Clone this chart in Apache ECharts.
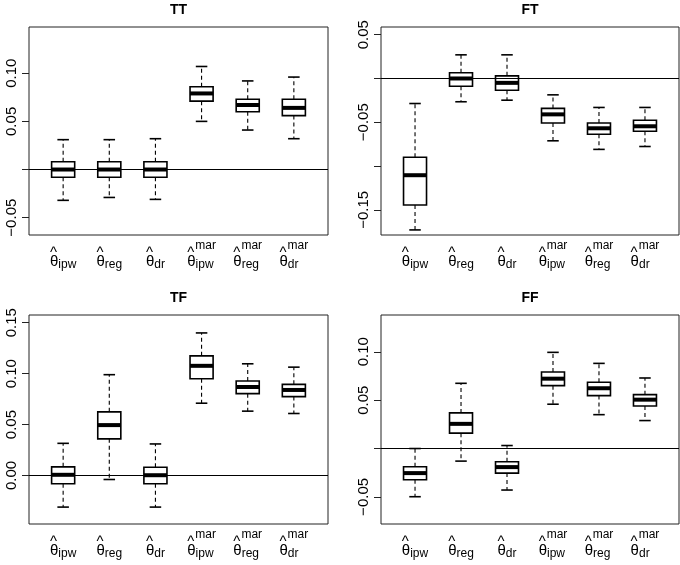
<!DOCTYPE html>
<html>
<head>
<meta charset="utf-8">
<script src="https://cdn.jsdelivr.net/npm/echarts@6/dist/echarts.min.js"></script>
<style>
  html, body { margin: 0; padding: 0; background: #fff; }
  #main { width: 680px; height: 565px; }
</style>
</head>
<body>
<div id="main"></div>
<script>
// estimator labels (x axis)
var estSubs = ['ipw', 'reg', 'dr', 'ipw', 'reg', 'dr'];
var estSups = ['', '', '', 'mar', 'mar', 'mar'];

// box stats per panel: [lower whisker, Q1, median, Q3, upper whisker]
var ttStats = [
    [-0.032, -0.008, 0.000, 0.008, 0.031],
    [-0.029, -0.008, 0.000, 0.008, 0.031],
    [-0.031, -0.008, 0.000, 0.008, 0.032],
    [0.050, 0.071, 0.079, 0.086, 0.107],
    [0.041, 0.060, 0.067, 0.073, 0.092],
    [0.032, 0.056, 0.064, 0.073, 0.096]
];
var ftStats = [
    [-0.173, -0.1446, -0.1105, -0.090, -0.0286],
    [-0.0266, -0.0088, 0.000, 0.0066, 0.027],
    [-0.0248, -0.0134, -0.005, 0.003, 0.027],
    [-0.0712, -0.0508, -0.041, -0.0342, -0.0187],
    [-0.081, -0.0637, -0.0569, -0.0508, -0.0331],
    [-0.0777, -0.0603, -0.0546, -0.0478, -0.0331]
];
var tfStats = [
    [-0.031, -0.0081, 0.0007, 0.0085, 0.0316],
    [-0.0039, 0.036, 0.0495, 0.0625, 0.099],
    [-0.031, -0.0081, 0.0003, 0.0081, 0.031],
    [0.071, 0.095, 0.1077, 0.1175, 0.140],
    [0.0632, 0.0804, 0.0869, 0.0928, 0.1097],
    [0.0609, 0.0775, 0.084, 0.0895, 0.1064]
];
var ffStats = [
    [-0.0498, -0.0323, -0.0254, -0.0189, 0.000],
    [-0.013, 0.0159, 0.0255, 0.0368, 0.0674],
    [-0.0429, -0.0254, -0.0192, -0.0137, 0.0031],
    [0.0458, 0.065, 0.0722, 0.0791, 0.0994],
    [0.035, 0.0547, 0.0623, 0.0685, 0.088],
    [0.0289, 0.044, 0.0505, 0.0557, 0.0729]
];

// y axis ranges, ticks and labelled ticks
var ttRange = [-0.068, 0.148];
var ftRange = [-0.1788, 0.0588];
var tfRange = [-0.0476, 0.1576];
var ffRange = [-0.078, 0.138];
var ttTicks = [-0.05, 0, 0.05, 0.10];
var ftTicks = [-0.15, -0.10, -0.05, 0, 0.05];
var tfTicks = [0, 0.05, 0.10, 0.15];
var ffTicks = [-0.05, 0, 0.05, 0.10];
var ttTickLabels = [-0.05, 0.05, 0.10];
var ftTickLabels = [-0.15, -0.05, 0.05];
var tfTickLabels = [0, 0.05, 0.10, 0.15];
var ffTickLabels = [-0.05, 0.05, 0.10];

var panelTitles = ['TT', 'FT', 'TF', 'FF'];
var refLine = 0;

var FONT = '"Liberation Sans", Arial, sans-serif';

var chart = echarts.init(document.getElementById('main'), null, { renderer: 'canvas' });

var panels = [
    { stats: ttStats, range: ttRange, ticks: ttTicks, labels: ttTickLabels, grid: { left: 29, top: 27, width: 299, height: 208 } },
    { stats: ftStats, range: ftRange, ticks: ftTicks, labels: ftTickLabels, grid: { left: 381, top: 27, width: 298, height: 208 } },
    { stats: tfStats, range: tfRange, ticks: tfTicks, labels: tfTickLabels, grid: { left: 29, top: 315, width: 299, height: 209 } },
    { stats: ffStats, range: ffRange, ticks: ffTicks, labels: ffTickLabels, grid: { left: 381, top: 315, width: 298, height: 209 } }
];

function renderBox(params, api) {
    var x = api.value(0);
    var lo = api.coord([x, api.value(1)]);
    var q1 = api.coord([x, api.value(2)]);
    var md = api.coord([x, api.value(3)]);
    var q3 = api.coord([x, api.value(4)]);
    var hi = api.coord([x, api.value(5)]);
    var cx = md[0];
    var half = api.size([0.25, 0])[0];
    var cap = half / 2;
    var whisker = { stroke: '#000', lineWidth: 1.1, lineDash: [4, 3] };
    var solid = { stroke: '#000', lineWidth: 1.6 };
    return {
        type: 'group',
        children: [
            { type: 'line', shape: { x1: cx, y1: q3[1], x2: cx, y2: hi[1] }, style: whisker },
            { type: 'line', shape: { x1: cx, y1: q1[1], x2: cx, y2: lo[1] }, style: whisker },
            { type: 'line', shape: { x1: cx - cap, y1: hi[1], x2: cx + cap, y2: hi[1] }, style: solid },
            { type: 'line', shape: { x1: cx - cap, y1: lo[1], x2: cx + cap, y2: lo[1] }, style: solid },
            { type: 'rect', shape: { x: cx - half, y: q3[1], width: half * 2, height: q1[1] - q3[1] },
              style: { fill: '#fff', stroke: '#000', lineWidth: 1.6 } },
            { type: 'line', shape: { x1: cx - half, y1: md[1], x2: cx + half, y2: md[1] },
              style: { stroke: '#000', lineWidth: 4 } }
        ]
    };
}

function fmtY(v) {
    return (v < 0 ? '\u2212' : '') + Math.abs(v).toFixed(2);
}

function fmtX(v) {
    var i = Math.round(v) - 1;
    var top = '{hat|^}' + (estSups[i] ? '{sup|' + estSups[i] + '}' : '');
    return top + '\n{th|\u03b8}{sub|' + estSubs[i] + '}';
}

var labelRich = {
    hat: { fontSize: 15, lineHeight: 10, align: 'left', verticalAlign: 'top', padding: [6.5, 1, 0, 0], fontFamily: FONT, color: '#000' },
    sup: { fontSize: 12, lineHeight: 10, align: 'left', verticalAlign: 'top', padding: [1, 0, 0, 0], fontFamily: FONT, color: '#000' },
    th: { fontSize: 15, lineHeight: 20, align: 'left', verticalAlign: 'top', padding: [5.5, 0, 0, 0], fontFamily: FONT, color: '#000' },
    sub: { fontSize: 12, lineHeight: 20, align: 'left', verticalAlign: 'top', padding: [10, 0, 0, 0], fontFamily: FONT, color: '#000' }
};

var grids = [], xAxes = [], yAxes = [], series = [], titles = [];

panels.forEach(function (p, k) {
    grids.push({
        left: p.grid.left, top: p.grid.top, width: p.grid.width, height: p.grid.height,
        show: true, borderColor: '#222', borderWidth: 1, backgroundColor: 'transparent'
    });
    xAxes.push({
        type: 'value', gridIndex: k, min: 0.26, max: 6.74,
        axisLine: { show: false }, axisTick: { show: false }, splitLine: { show: false },
        axisLabel: {
            customValues: [1, 2, 3, 4, 5, 6],
            formatter: fmtX,
            margin: 4,
            color: '#000',
            fontFamily: FONT,
            rich: labelRich
        }
    });
    yAxes.push({
        type: 'value', gridIndex: k, min: p.range[0], max: p.range[1],
        axisLine: { show: false }, splitLine: { show: false },
        axisTick: { show: true, length: 7, customValues: p.ticks, lineStyle: { color: '#222', width: 1 } },
        axisLabel: {
            customValues: p.labels, formatter: fmtY, rotate: 90, margin: 10,
            fontSize: 15, color: '#000', fontFamily: FONT
        }
    });
    series.push({
        type: 'custom', xAxisIndex: k, yAxisIndex: k,
        renderItem: renderBox,
        encode: { x: 0, y: [1, 2, 3, 4, 5] },
        data: p.stats.map(function (s, i) { return [i + 1].concat(s); }),
        markLine: {
            silent: true, symbol: 'none', label: { show: false },
            lineStyle: { color: '#000', type: 'solid', width: 1 },
            data: [{ yAxis: refLine }]
        }
    });
    titles.push({
        text: panelTitles[k],
        left: p.grid.left + p.grid.width / 2, top: p.grid.top - 24, textAlign: 'center', padding: 0,
        textStyle: { fontSize: 14, fontWeight: 'bold', color: '#000', fontFamily: FONT }
    });
});

var option = {
    animation: false,
    title: titles,
    grid: grids,
    xAxis: xAxes,
    yAxis: yAxes,
    series: series
};

chart.setOption(option);
</script>
</body>
</html>
